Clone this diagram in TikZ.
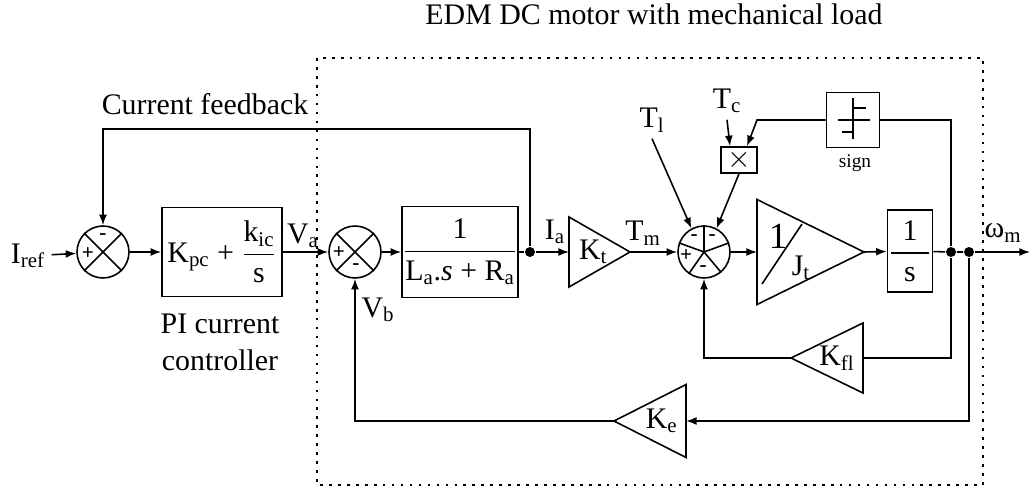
\documentclass[tikz,border=0pt]{standalone}
\usepackage{fontspec}
\setmainfont{Liberation Serif}
\usepackage{amsmath}
\usetikzlibrary{shapes.geometric,arrows.meta,positioning}

\begin{document}
\begin{tikzpicture}[x=0.02cm,y=-0.02cm,line width=0.9pt,
  >={Latex[length=6pt,width=4.5pt]},
  every node/.style={font=\fontsize{17}{21}\selectfont},
  sumnode/.style={draw,circle,minimum size=1.04cm,inner sep=0pt},
  block/.style={draw,rectangle,inner sep=0pt},
  gain/.style={draw,isosceles triangle,isosceles triangle stretches,inner sep=0pt,outer sep=0pt},
  dot/.style={circle,fill,inner sep=0pt,minimum size=0.2cm},
  signmark/.style={font=\fontsize{12}{14}\selectfont\bfseries,inner sep=0pt},
  signtext/.style={font=\fontsize{11}{13}\selectfont}]
\useasboundingbox (0,0) rectangle (1033,489);

\node at (654,14) {EDM DC motor with mechanical load};
\draw[line width=1.5pt,dash pattern=on 1.5pt off 3.6pt] (317,58) rectangle (983,485);

% PI current loop
\node (iref) at (28,256) {I\textsubscript{ref}};
\node[sumnode] (s1) at (103,252) {};
\draw (s1.45) -- (s1.225) (s1.135) -- (s1.315);
\node[signmark] at (103,237) {-};
\node[signmark] at (88,254) {+};
\node[block,minimum width=2.4cm,minimum height=1.78cm] (pi) at (222,252)
  {K\textsubscript{pc} + \(\dfrac{\text{k\textsubscript{ic}}}{\text{s}}\)};
\node[align=center] at (220,342) {PI current\\controller};
\node at (205,104) {Current feedback};
\node (va) at (303,236) {V\textsubscript{a}};

% armature
\node[sumnode] (s2) at (355,252) {};
\draw (s2.45) -- (s2.225) (s2.135) -- (s2.315);
\node[signmark] at (339,253) {+};
\node[signmark] at (356,267) {-};
\node (vb) at (378,310) {V\textsubscript{b}};
\node[block,minimum width=2.32cm,minimum height=1.82cm] (ra) at (460,252)
  {\(\dfrac{\text{\makebox[2.1cm]{1}}}{\text{L\textsubscript{a}.\textit{s} + R\textsubscript{a}}}\)};
\node[dot] (j1) at (530,252) {};
\node (ia) at (555,232) {I\textsubscript{a}};
\coordinate (kt) at (569,252);
\coordinate (ktapex) at (630,252);
\draw (569,217) -- (ktapex) -- (569,287) -- cycle;
\node[anchor=west] at ([xshift=2pt]kt) {K\textsubscript{t}};
\node (tm) at (643,233) {T\textsubscript{m}};

% torque sum
\node[sumnode] (s3) at (704,252) {};
\foreach \a in {90,160,235,310,20}
  \draw (s3.center) -- (s3.\a);
\node[signmark] at (694,238) {-};
\node[signmark] at (712,238) {-};
\node[signmark] at (686,256) {+};
\node[signmark] at (703,269) {-};
\node (tl) at (652,120) {T\textsubscript{l}};
\node (tc) at (727,101) {T\textsubscript{c}};
\node[block,minimum width=0.72cm,minimum height=0.52cm] (mul) at (739,160) {$\times$};
\node[block,minimum width=1.06cm,minimum height=1.1cm] (sgn) at (853,120) {};
\draw[line width=0.7pt] (838,120) -- (870,120);
\draw (853,98) -- (853,139);
\draw (853,108) -- (866,108);
\draw (842,132) -- (853,132);
\node[signtext] at (855,163) {sign};
\coordinate (sgnturn) at (757,120);

% mechanics
\node[gain,minimum width=2.1cm,minimum height=2.14cm,anchor=lower side] (jt) at (757,252) {};
\node[font=\fontsize{21}{24}\selectfont] at (778,236) {1};
\node at (801,268) {J\textsubscript{t}};
\draw (762,284) -- (802,224);
\node[block,minimum width=0.9cm,minimum height=1.64cm] (integ) at (910,251)
  {\(\dfrac{\text{\makebox[0.75cm]{1}}}{\text{s}}\)};
\node[dot] (j2) at (951,252) {};
\node[dot] (j3) at (969,252) {};
\coordinate (out) at (1030,252);
\node (wm) at (1003,233) {ω\textsubscript{m}};
\node[gain,shape border rotate=180,minimum width=1.4cm,minimum height=1.44cm,anchor=lower side] (kfl) at (863,358) {};
\node[anchor=east] at ([xshift=-1pt]kfl.lower side) {K\textsubscript{fl}};
\node[gain,shape border rotate=180,minimum width=1.46cm,minimum height=1.44cm,anchor=lower side] (ke) at (686,421) {};
\node[anchor=east] at ([xshift=-1pt]ke.lower side) {K\textsubscript{e}};
\coordinate (fbturn) at (103,129);

% connectors
\draw[->] (iref) -- (s1);
\draw[->] (s1) -- (pi);
\draw[->] (pi) -- (s2);
\draw[->] (s2) -- (ra);
\draw (ra) -- (j1);
\draw[->] (j1) -- (kt);
\draw[->] (j1) |- (fbturn) -- (s1);
\draw[->] (ktapex) -- (s3);
\draw[->] (tl.south) -- (s3.118);
\draw[->] (tc.south) -- ([xshift=-0.18cm]mul.north);
\draw[->] (sgn.west) -- (sgnturn) -- ([xshift=0.16cm]mul.north);
\draw[->] (mul.south) -- (s3.62);
\draw[->] (s3) -- (jt.lower side);
\draw[->] (jt.apex) -- (integ);
\draw (integ) -- (j2) -- (j3);
\draw[->] (j3) -- (out);
\draw (j2) |- (sgn.east);
\draw (j2) |- (kfl.lower side);
\draw[->] (kfl.apex) -| (s3.south);
\draw[->] (j3) |- (ke.lower side);
\draw[->] (ke.apex) -| (s2.south);
\end{tikzpicture}
\end{document}
